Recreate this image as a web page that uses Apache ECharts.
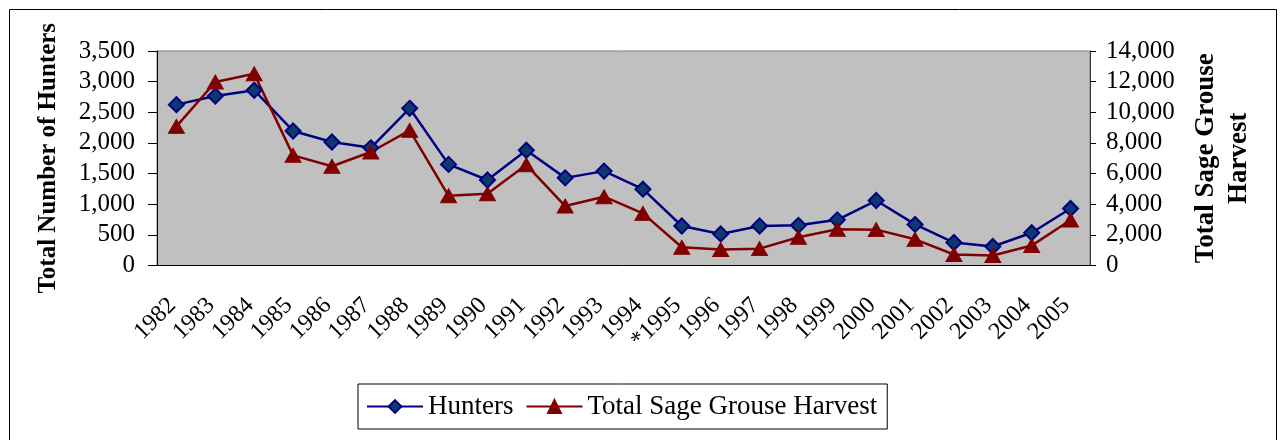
<!DOCTYPE html>
<html>
<head>
<meta charset="utf-8">
<script src="https://cdn.jsdelivr.net/npm/echarts@6/dist/echarts.min.js"></script>
<style>
  html, body { margin: 0; padding: 0; background: #fff; }
  #chart { width: 1281px; height: 440px; }
</style>
</head>
<body>
<div id="chart"></div>
<script>
const years = ['1982', '1983', '1984', '1985', '1986', '1987', '1988', '1989', '1990', '1991', '1992', '1993',
  '1994', '*1995', '1996', '1997', '1998', '1999', '2000', '2001', '2002', '2003', '2004', '2005']
const hunters = [2625, 2765, 2860, 2195, 2015, 1920, 2565, 1650, 1395, 1880, 1430, 1540,
  1245, 645, 515, 645, 655, 745, 1060, 670, 375, 310, 535, 930]
const harvest = [9080, 11980, 12520, 7190, 6480, 7410, 8820, 4550, 4680, 6570, 3880, 4490,
  3400, 1190, 1040, 1100, 1840, 2360, 2340, 1710, 720, 650, 1300, 2970]
const leftTicks = { min: 0, max: 3500, interval: 500 }
const rightTicks = { min: 0, max: 14000, interval: 2000 }

const serif = 'Liberation Serif'
const fmt = v => v.toLocaleString('en-US')

const chart = echarts.init(document.getElementById('chart'))
const option = {
  animation: false,
  textStyle: { fontFamily: serif, color: '#000' },
  grid: {
    left: 157, right: 191, top: 51, bottom: 174.5,
    show: true, backgroundColor: '#c0c0c0', borderColor: '#808080', borderWidth: 1
  },
  legend: {
    left: 358, top: 384,
    padding: [9, 10, 9, 8],
    borderColor: '#000', borderWidth: 1, backgroundColor: '#fff',
    itemWidth: 56, itemHeight: 16, itemGap: 12,
    textStyle: { fontFamily: serif, fontSize: 27, color: '#000' },
    data: ['Hunters', 'Total Sage Grouse Harvest']
  },
  xAxis: [
    {
      type: 'category', data: years, boundaryGap: true,
      axisLine: { lineStyle: { color: '#000', width: 1 } },
      axisTick: { alignWithLabel: false, length: 8, lineStyle: { color: '#000' } },
      // small right padding pulls the rotated labels a bit down-left, like the original
      axisLabel: { rotate: 45, margin: 32, padding: [0, 6, 0, 0], fontFamily: serif, fontSize: 24, color: '#000', interval: 0 }
    },
    {
      type: 'category', data: years, boundaryGap: true, position: 'bottom',
      axisLine: { show: false },
      axisTick: { inside: true, length: 7, lineStyle: { color: '#000' } },
      axisLabel: { show: false }
    }
  ],
  yAxis: [
    {
      type: 'value', position: 'left', ...leftTicks,
      name: 'Total Number of Hunters', nameLocation: 'middle', nameGap: 96,
      nameTextStyle: { fontFamily: serif, fontSize: 25, fontWeight: 'bold', color: '#000' },
      axisLine: { show: true, lineStyle: { color: '#000' } },
      axisTick: { show: true, length: 9, lineStyle: { color: '#000' } },
      axisLabel: { margin: 22, fontFamily: serif, fontSize: 25, color: '#000', formatter: fmt },
      splitLine: { show: false }
    },
    {
      type: 'value', position: 'right', ...rightTicks,
      name: 'Total Sage Grouse\nHarvest', nameLocation: 'middle', nameGap: 100, nameRotate: 90,
      nameTextStyle: { fontFamily: serif, fontSize: 27, fontWeight: 'bold', color: '#000', lineHeight: 33, align: 'center' },
      axisLine: { show: true, lineStyle: { color: '#333' } },
      axisTick: { show: true, length: 6, lineStyle: { color: '#000' } },
      axisLabel: { margin: 16, fontFamily: serif, fontSize: 25, color: '#000', formatter: fmt },
      splitLine: { show: false }
    }
  ],
  series: [
    {
      name: 'Hunters', type: 'line', data: hunters, yAxisIndex: 0,
      symbol: 'diamond', symbolSize: 15,
      lineStyle: { color: '#000080', width: 2.5 },
      itemStyle: { color: '#0c3a6e', borderColor: '#000080', borderWidth: 2 }
    },
    {
      name: 'Total Sage Grouse Harvest', type: 'line', data: harvest, yAxisIndex: 1,
      symbol: 'triangle', symbolSize: [16, 14],
      lineStyle: { color: '#800000', width: 2.5 },
      itemStyle: { color: '#800000', borderColor: '#800000', borderWidth: 1 }
    }
  ],
  graphic: [
    {
      type: 'rect', left: 7, top: 7, silent: true,
      shape: { width: 1267, height: 460 },
      style: { fill: 'none', stroke: '#000', lineWidth: 1 }
    }
  ]
}
chart.setOption(option)
</script>
</body>
</html>
